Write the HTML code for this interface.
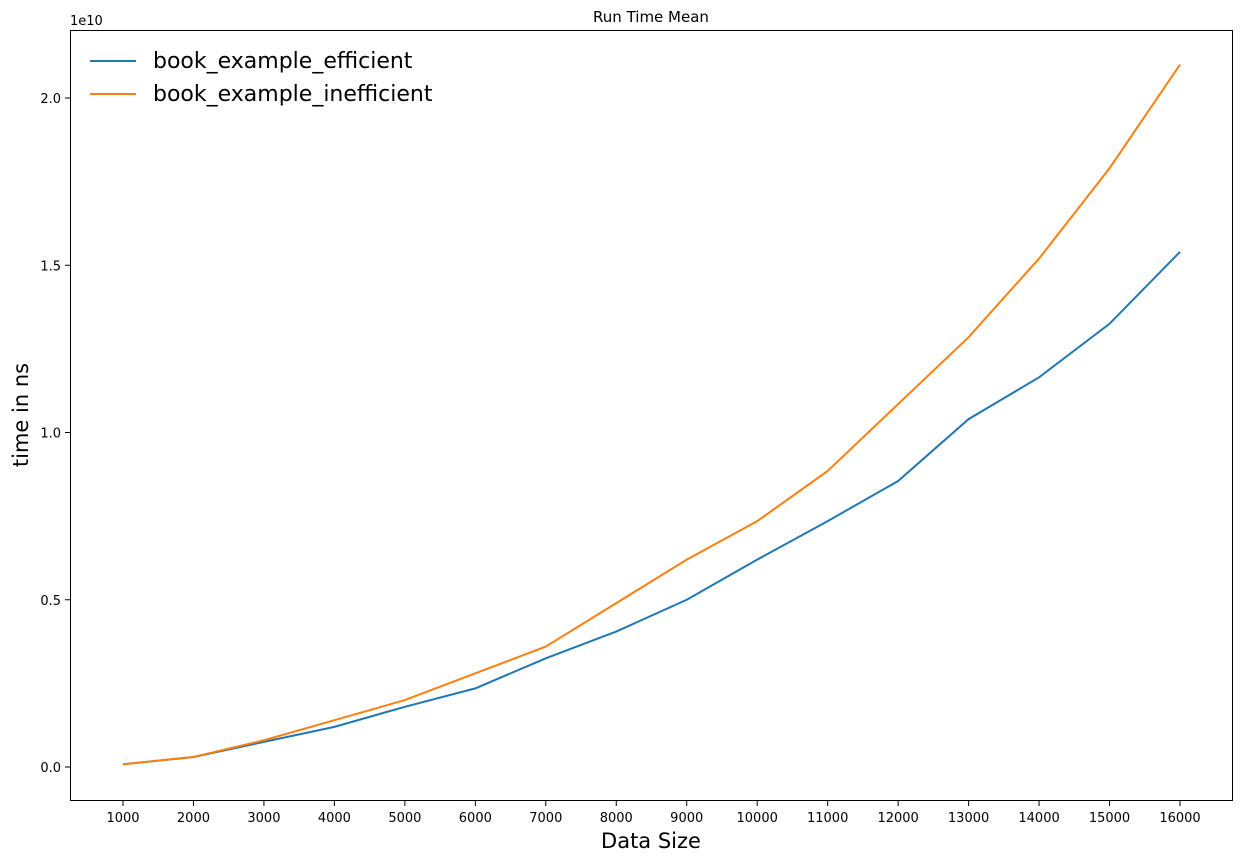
<!DOCTYPE html>
<html><head><meta charset="utf-8"><style>
body{margin:0;background:#fff;font-family:"Liberation Sans","DejaVu Sans",sans-serif;}
svg text{font-family:"DejaVu Sans","Liberation Sans",sans-serif;}
</style></head><body>
<svg id="chart" width="1242" height="862" xmlns="http://www.w3.org/2000/svg">
<rect x="0" y="0" width="1242" height="862" fill="#fff"/>
<text x="651" y="22" font-size="15" text-anchor="middle">Run Time Mean</text>
<text x="70" y="25" font-size="13">1e10</text>
<text x="651" y="848" font-size="21" text-anchor="middle">Data Size</text>
<text x="28" y="415" font-size="21" text-anchor="middle" transform="rotate(-90 28 415)">time in ns</text>
<g id="axes"></g>
<g id="lines"></g>
<rect x="70.5" y="30.5" width="1162" height="770" fill="none" stroke="#000" stroke-width="1"/>
<g>
<line x1="90" y1="61" x2="136" y2="61" stroke="#1f77b4" stroke-width="2"/>
<text x="153" y="68" font-size="22">book_example_efficient</text>
<line x1="90" y1="94" x2="136" y2="94" stroke="#ff7f0e" stroke-width="2"/>
<text x="153" y="101" font-size="22">book_example_inefficient</text>
</g>
</svg>
<script>
const sizes=[1000,2000,3000,4000,5000,6000,7000,8000,9000,10000,11000,12000,13000,14000,15000,16000];
const efficient=[0.008,0.03,0.075,0.12,0.18,0.235,0.325,0.405,0.50,0.62,0.735,0.855,1.04,1.165,1.325,1.54];
const inefficient=[0.008,0.03,0.08,0.14,0.20,0.28,0.36,0.49,0.62,0.735,0.885,1.085,1.285,1.52,1.79,2.10];
const yTicks=[0,0.5,1.0,1.5,2.0];
const yTickLabels=["0.0","0.5","1.0","1.5","2.0"];
const NS="http://www.w3.org/2000/svg";
function xs(v){return 123+(v-1000)*(1180-123)/15000;}
function ys(v){return 767-v*334.5;}
const axes=document.getElementById('axes');
sizes.forEach(s=>{
 const t=document.createElementNS(NS,'line');
 t.setAttribute('x1',xs(s));t.setAttribute('x2',xs(s));t.setAttribute('y1',801);t.setAttribute('y2',806);t.setAttribute('stroke','#000');
 
 
 axes.appendChild(t);
 const l=document.createElementNS(NS,'text');
 l.setAttribute('x',xs(s));l.setAttribute('y',822);l.setAttribute('font-size','13');l.setAttribute('text-anchor','middle');l.textContent=s;
 
 
 axes.appendChild(l);
});
yTicks.forEach((v,i)=>{
 const t=document.createElementNS(NS,'line');
 t.setAttribute('x1',65);t.setAttribute('x2',70);t.setAttribute('y1',ys(v));t.setAttribute('y2',ys(v));t.setAttribute('stroke','#000');
 
 
 axes.appendChild(t);
 const l=document.createElementNS(NS,'text');
 l.setAttribute('x',61);l.setAttribute('y',ys(v)+5);l.setAttribute('font-size','13');l.setAttribute('text-anchor','end');l.textContent=yTickLabels[i];
 
 
 axes.appendChild(l);
});
const lines=document.getElementById('lines');
[[efficient,'#1f77b4','line-efficient'],[inefficient,'#ff7f0e','line-inefficient']].forEach(([d,c,n])=>{
 const p=document.createElementNS(NS,'polyline');
 p.setAttribute('points',d.map((v,i)=>xs(sizes[i])+','+ys(v)).join(' '));
 p.setAttribute('fill','none');p.setAttribute('stroke',c);p.setAttribute('stroke-width','2');
 
 
 lines.appendChild(p);
});
</script>
</body></html>
